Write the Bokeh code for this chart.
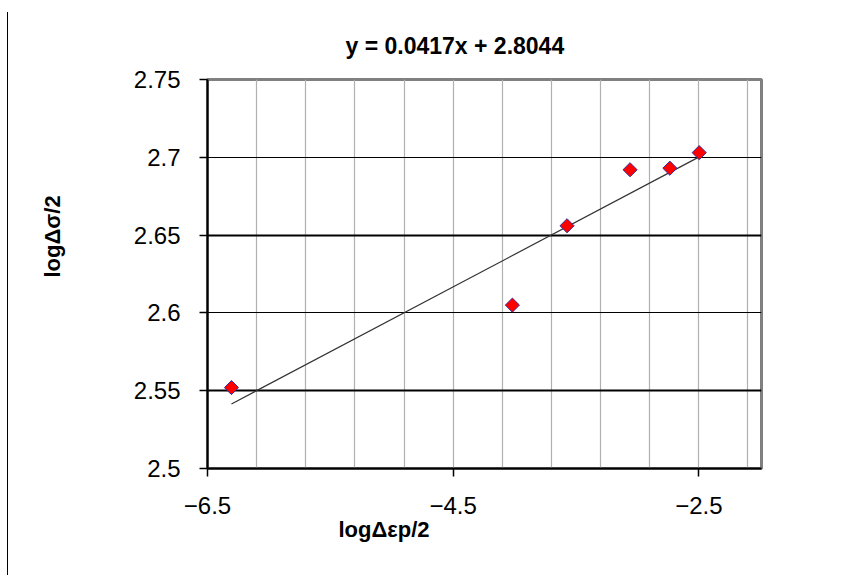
import numpy as np
from bokeh.plotting import figure
from bokeh.models import FixedTicker, Grid, Range1d, Title
from bokeh.embed import file_html
from bokeh.resources import INLINE

# ---- data ----
x_vals = [-6.305, -4.018, -3.573, -3.060, -2.736, -2.497]
y_vals = [2.552, 2.605, 2.656, 2.692, 2.693, 2.703]
slope = 0.0417
intercept = 2.8044
title_text = "y = 0.0417x + 2.8044"
x_label = "logΔεp/2"
y_label = "logΔσ/2"
x_ticks = [-6.5, -4.5, -2.5]
y_ticks = [2.5, 2.55, 2.6, 2.65, 2.7, 2.75]
y_grid_thin = [2.6, 2.7]
y_grid_thick = [2.55, 2.65]
x_grid_ticks = [round(-6.5 + 0.4 * i, 2) for i in range(12)]

FONT = "Liberation Sans"

p = figure(width=841, height=563,
           x_range=Range1d(-6.5, -1.99), y_range=Range1d(2.5, 2.75),
           output_backend="svg", toolbar_location=None,
           min_border_left=240, min_border_right=47,
           min_border_top=67, min_border_bottom=107,
           background_fill_color="white",
           border_fill_color="white", border_fill_alpha=0,
           styles={"margin-left": "-33px", "margin-top": "12px",
                   "background-image": "linear-gradient(#000000, #000000)",
                   "background-size": "1px 100%",
                   "background-position": "40px 0px",
                   "background-repeat": "no-repeat"})

p.outline_line_color = "#808080"
p.outline_line_width = 3

p.xgrid.visible = False
p.ygrid.visible = False

p.add_layout(Grid(dimension=0, ticker=FixedTicker(ticks=x_grid_ticks),
                  grid_line_color="#b0b0b0", grid_line_width=1.2))
p.add_layout(Grid(dimension=1, ticker=FixedTicker(ticks=y_grid_thin),
                  grid_line_color="black", grid_line_width=1))
p.add_layout(Grid(dimension=1, ticker=FixedTicker(ticks=y_grid_thick),
                  grid_line_color="black", grid_line_width=2.2))

for ax in (p.xaxis[0], p.yaxis[0]):
    ax.axis_line_color = "black"
    ax.axis_line_width = 2
    ax.major_tick_line_color = "black"
    ax.major_tick_line_width = 1.5
    ax.major_tick_in = 0
    ax.major_tick_out = 8
    ax.minor_tick_line_color = None
    ax.major_label_text_font = FONT
    ax.major_label_text_font_size = "24px"
    ax.major_label_text_color = "black"

p.xaxis.ticker = FixedTicker(ticks=x_ticks)
p.yaxis.ticker = FixedTicker(ticks=y_ticks)
p.xaxis.major_label_standoff = 20
p.yaxis.major_label_standoff = 19

# trend line
tx = np.array([min(x_vals), max(x_vals)])
ty = slope * tx + intercept
p.line(tx, ty, line_color="#333333", line_width=1.2)

# points
p.scatter(x_vals, y_vals, marker="square", angle=np.pi / 4, size=10,
          fill_color="#ff0000", line_color="#3a2a9a", line_width=1)

# texts
p.add_layout(Title(text=title_text, align="left", offset=138, standoff=38,
                   vertical_align="top",
                   text_font=FONT, text_font_size="23px", text_font_style="bold",
                   text_color="black"), "above")
p.add_layout(Title(text=y_label, align="left", offset=191, standoff=128,
                   vertical_align="top",
                   text_font=FONT, text_font_size="22px", text_font_style="bold",
                   text_color="black"), "left")
p.add_layout(Title(text=x_label, align="left", offset=131, standoff=1,
                   vertical_align="top",
                   text_font=FONT, text_font_size="22px", text_font_style="bold",
                   text_color="black"), "below")

open("out.html", "w").write(file_html(p, INLINE))
